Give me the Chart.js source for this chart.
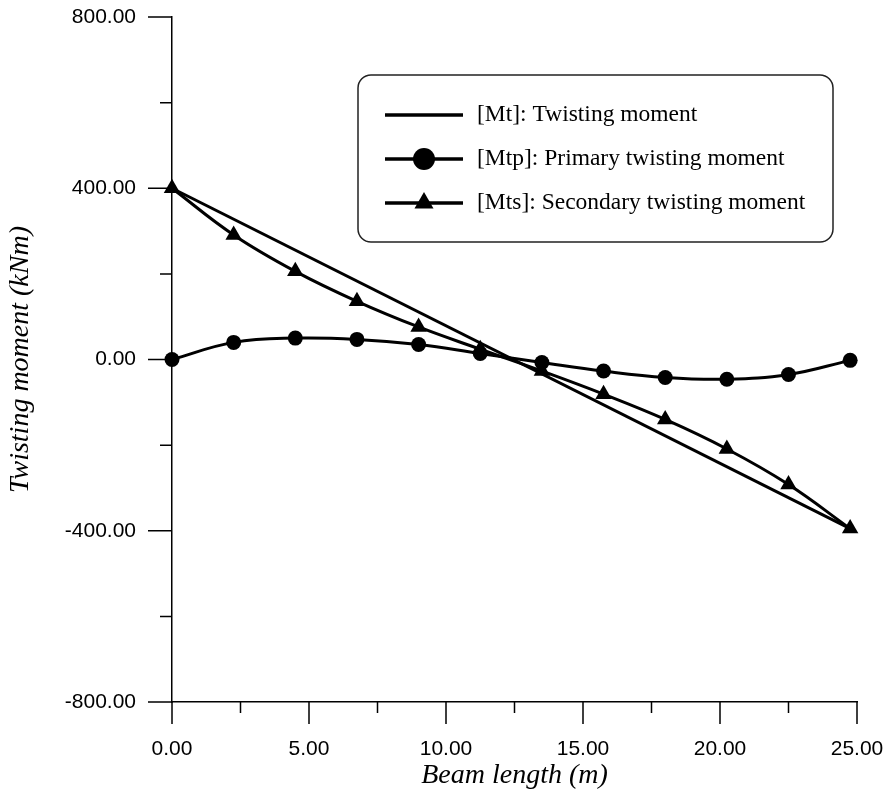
<!DOCTYPE html>
<html>
<head>
<meta charset="utf-8">
<script src="https://cdn.jsdelivr.net/npm/chart.js@4/dist/chart.umd.min.js"></script>
<style>
  html, body { margin: 0; padding: 0; background: #fff; }
  #wrap { width: 883px; height: 792px; }
</style>
</head>
<body>
<div id="wrap"><canvas id="chart" width="883" height="792"></canvas></div>
<script>
// beam positions (m)
const positions = [0, 2.25, 4.5, 6.75, 9, 11.25, 13.5, 15.75, 18, 20.25, 22.5, 24.75];
// twisting moments (kNm)
const mt_x = [0, 24.75];
const mt = [400, -395];
const mtp = [0, 40, 50, 47, 35, 14, -7, -27, -42, -46, -35, -2];
const mts = [400, 291, 206, 136, 76, 24, -27, -81, -140, -209, -292, -395];

const labels = [
    "[Mt]: Twisting moment",
    "[Mtp]: Primary twisting moment",
    "[Mts]: Secondary twisting moment"
];

function toPoints(xs, ys) {
    return xs.map((x, i) => ({ x: x, y: ys[i] }));
}

// tick marks: long ones at labelled values, short ones between
const tickMarks = {
    id: 'tickMarks',
    afterDraw(chart) {
        const ctx = chart.ctx;
        const xs = chart.scales.x;
        const ys = chart.scales.y;
        const area = chart.chartArea;
        ctx.save();
        ctx.strokeStyle = '#000';
        ctx.lineWidth = 1.5;
        ctx.beginPath();
        ys.ticks.forEach(t => {
            const py = ys.getPixelForValue(t.value);
            const len = (t.value % 400 === 0) ? 24 : 12;
            ctx.moveTo(area.left - len, py);
            ctx.lineTo(area.left, py);
        });
        xs.ticks.forEach(t => {
            const px = xs.getPixelForValue(t.value);
            const len = (t.value % 5 === 0) ? 22 : 11;
            ctx.moveTo(px, area.bottom);
            ctx.lineTo(px, area.bottom + len);
        });
        ctx.stroke();
        ctx.restore();
    }
};

function drawMarker(ctx, style, r, x, y) {
    ctx.beginPath();
    if (style === 'circle') {
        ctx.arc(x, y, r, 0, Math.PI * 2);
    } else if (style === 'triangle') {
        ctx.moveTo(x, y - r);
        ctx.lineTo(x + r * Math.sin(Math.PI * 2 / 3), y + r / 2);
        ctx.lineTo(x - r * Math.sin(Math.PI * 2 / 3), y + r / 2);
        ctx.closePath();
    }
    ctx.fill();
}

// boxed legend inside the plot
const boxLegend = {
    id: 'boxLegend',
    afterDraw(chart) {
        const ctx = chart.ctx;
        const left = 358, top = 75, right = 833, bottom = 242, rad = 13;
        ctx.save();
        ctx.fillStyle = '#fff';
        ctx.strokeStyle = '#222';
        ctx.lineWidth = 1.5;
        ctx.beginPath();
        ctx.roundRect(left, top, right - left, bottom - top, rad);
        ctx.fill();
        ctx.stroke();

        const rows = [115, 159, 203];
        chart.data.datasets.forEach((ds, i) => {
            const y = rows[i];
            ctx.strokeStyle = '#000';
            ctx.fillStyle = '#000';
            ctx.lineWidth = 3.5;
            ctx.beginPath();
            ctx.moveTo(385, y);
            ctx.lineTo(463, y);
            ctx.stroke();
            if (ds.pointRadius > 0) {
                drawMarker(ctx, ds.pointStyle, 11, 424, y);
            }
            ctx.font = '23.5px "Liberation Serif", serif';
            ctx.textBaseline = 'middle';
            ctx.fillText(ds.label, 477, y);
        });
        ctx.restore();
    }
};

const config = {
    type: 'line',
    data: {
        datasets: [
            {
                label: labels[0],
                data: toPoints(mt_x, mt),
                borderColor: '#000',
                borderWidth: 3,
                pointRadius: 0,
                tension: 0,
                clip: false
            },
            {
                label: labels[1],
                data: toPoints(positions, mtp),
                borderColor: '#000',
                backgroundColor: '#000',
                borderWidth: 3,
                pointStyle: 'circle',
                pointRadius: 7.5,
                pointBorderWidth: 0,
                tension: 0.4,
                clip: false
            },
            {
                label: labels[2],
                data: toPoints(positions, mts),
                borderColor: '#000',
                backgroundColor: '#000',
                borderWidth: 3,
                pointStyle: 'triangle',
                pointRadius: 9.5,
                pointBorderWidth: 0,
                tension: 0.4,
                clip: false
            }
        ]
    },
    options: {
        responsive: false,
        animation: false,
        layout: { padding: { top: 17, right: 26, left: 0, bottom: 0 } },
        plugins: {
            legend: { display: false },
            tooltip: { enabled: false }
        },
        scales: {
            x: {
                type: 'linear',
                min: 0,
                max: 25,
                grid: { display: false },
                border: { display: true, color: '#000', width: 1.5 },
                ticks: {
                    stepSize: 2.5,
                    padding: 27,
                    maxRotation: 0,
                    autoSkip: false,
                    color: '#000',
                    font: { family: '"Liberation Sans", Arial, sans-serif', size: 21 },
                    callback: v => (v % 5 === 0 ? v.toFixed(2) : '')
                },
                title: {
                    display: true,
                    text: 'Beam length (m)',
                    color: '#000',
                    padding: { top: 2, bottom: 0 },
                    font: { family: '"Liberation Serif", serif', size: 28, style: 'italic' }
                },
                afterFit(scale) {
                    scale.height = 90;
                    scale.paddingLeft = 0;
                    scale.paddingRight = 0;
                }
            },
            y: {
                min: -800,
                max: 800,
                grid: { display: false },
                border: { display: true, color: '#000', width: 1.5 },
                ticks: {
                    stepSize: 200,
                    padding: 28,
                    autoSkip: false,
                    color: '#000',
                    font: { family: '"Liberation Sans", Arial, sans-serif', size: 21 },
                    callback: v => (v % 400 === 0 ? v.toFixed(2) : '')
                },
                title: {
                    display: true,
                    text: 'Twisting moment (kNm)',
                    color: '#000',
                    padding: { top: 4, bottom: 0 },
                    font: { family: '"Liberation Serif", serif', size: 28, style: 'italic' }
                },
                afterFit(scale) {
                    scale.width = 172;
                    scale.paddingTop = 0;
                    scale.paddingBottom = 0;
                }
            }
        }
    },
    plugins: [tickMarks, boxLegend]
};

const chart = new Chart(document.getElementById('chart').getContext('2d'), config);
</script>
</body>
</html>
